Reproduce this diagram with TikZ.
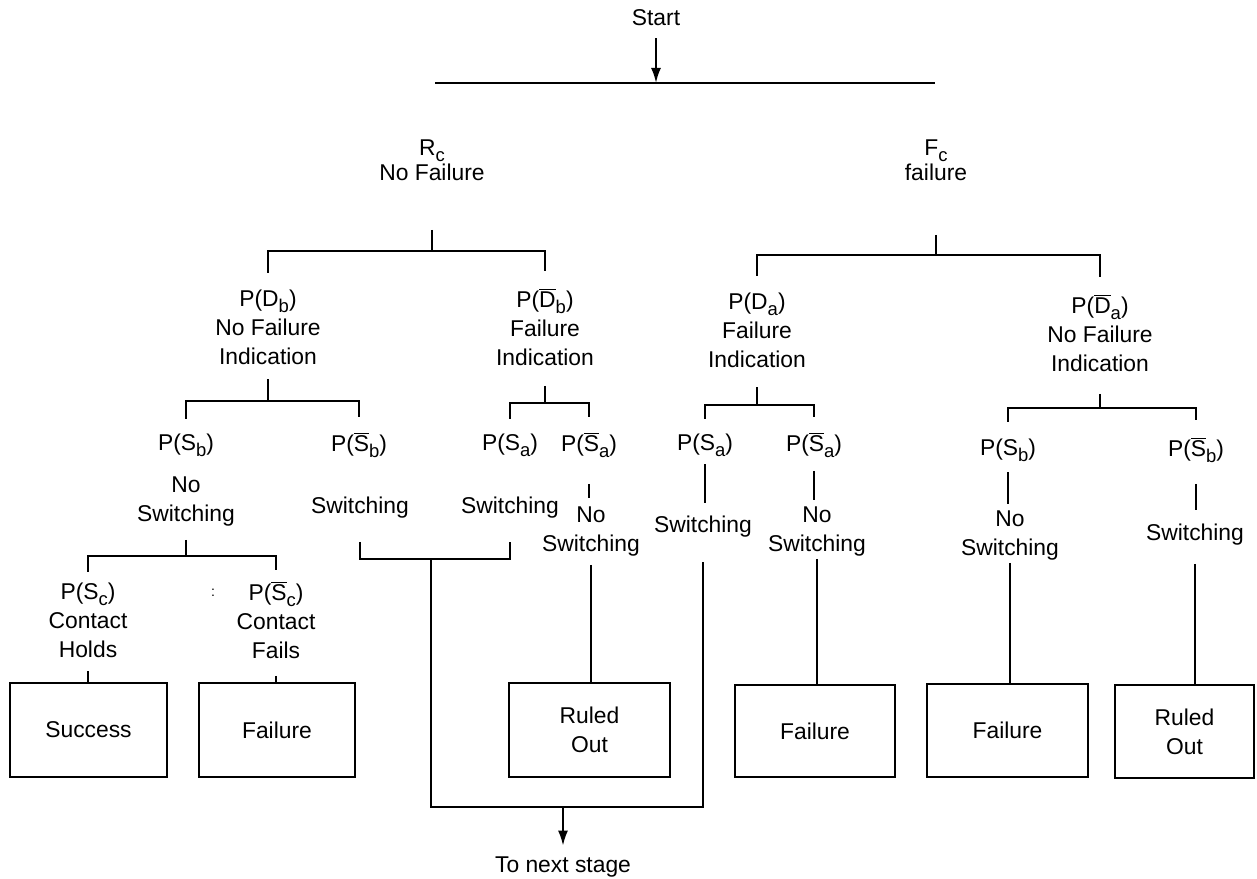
\documentclass[tikz,border=0pt]{standalone}
\usepackage{fontspec}
\setmainfont{Liberation Sans}
\usetikzlibrary{arrows.meta}

\newcommand{\lowsub}[1]{\raisebox{-0.5ex}{\fontsize{10.5}{10}\selectfont #1}}

\begin{document}
\begin{tikzpicture}[x=0.2mm, y=-0.2mm,
	lbl/.style={align=center, inner sep=1pt, font=\fontsize{13}{16.5}\selectfont},
	box/.style={draw, line width=1.5pt, inner sep=0pt, align=center, font=\fontsize{13}{16.5}\selectfont},
	fork/.style={line width=1.6pt},
	link/.style={line width=1.2pt},
	arr/.style={line width=1.2pt, -{Latex[length=3mm,width=2mm]}}]
	\useasboundingbox (0,0) rectangle (1257,879);

	\node[lbl] (start) at (656,18) {Start};
	\coordinate (topL) at (435,83);
	\coordinate (topR) at (935,83);
	\node[lbl] (rc) at (432,160) {R\lowsub{c}\\[-2pt]No Failure};
	\node[lbl] (fc) at (936,160) {F\lowsub{c}\\[-2pt]failure};

	\node[lbl] (db) at (268,327) {P(D\lowsub{b})\\No Failure\\Indication};
	\node[lbl] (dbn) at (545,327) {P($\overline{\mbox{D}}$\lowsub{b})\\Failure\\Indication};
	\node[lbl] (da) at (757,330) {P(D\lowsub{a})\\Failure\\Indication};
	\node[lbl] (dan) at (1100,333) {P($\overline{\mbox{D}}$\lowsub{a})\\No Failure\\Indication};

	\node[lbl] (sb1) at (186,445) {P(S\lowsub{b})};
	\node[lbl] (sw1) at (186,502) {No\\Switching};
	\node[lbl] (sbn1) at (359,445) {P($\overline{\mbox{S}}$\lowsub{b})};
	\node[lbl] (sw2) at (360,508) {Switching};
	\node[lbl] (sa1) at (510,445) {P(S\lowsub{a})};
	\node[lbl] (sw3) at (510,508) {Switching};
	\node[lbl] (san1) at (589,445) {P($\overline{\mbox{S}}$\lowsub{a})};
	\node[lbl] (nsw1) at (591,532) {No\\Switching};
	\node[lbl] (sa2) at (705,445) {P(S\lowsub{a})};
	\node[lbl] (sw4) at (703,527) {Switching};
	\node[lbl] (san2) at (814,445) {P($\overline{\mbox{S}}$\lowsub{a})};
	\node[lbl] (nsw2) at (817,532) {No\\Switching};
	\node[lbl] (sb2) at (1008,450) {P(S\lowsub{b})};
	\node[lbl] (nsw3) at (1010,536) {No\\Switching};
	\node[lbl] (sbn2) at (1196,450) {P($\overline{\mbox{S}}$\lowsub{b})};
	\node[lbl] (sw5) at (1195,535) {Switching};

	\node[lbl] (sc) at (88,620) {P(S\lowsub{c})\\Contact\\Holds};
	\node[lbl] (scn) at (276,620) {P($\overline{\mbox{S}}$\lowsub{c})\\Contact\\Fails};
	\node[lbl, font=\footnotesize] (dots) at (213,593) {:};

	\node[box, minimum width=31.4mm, minimum height=18.8mm] (success) at (88.5,730) {Success};
	\node[box, minimum width=31.2mm, minimum height=18.8mm] (fail1) at (277,730) {Failure};
	\node[box, minimum width=32.2mm, minimum height=18.8mm] (ruled1) at (589.5,730) {Ruled\\Out};
	\node[box, minimum width=32mm, minimum height=18.4mm] (fail2) at (815,731) {Failure};
	\node[box, minimum width=32.2mm, minimum height=18.6mm] (fail3) at (1007.5,730.5) {Failure};
	\node[box, minimum width=27.8mm, minimum height=18.6mm] (ruled2) at (1184.5,731.5) {Ruled\\Out};

	\node[lbl] (next) at (563,867) {To next stage};

	% start
	\draw[fork] (topL) -- (topR);
	\draw[arr, shorten <=2mm] (start) -- (start |- topL);

	% component c
	\coordinate (kRc) at (432,251);
	\coordinate (kFc) at (936,255);
	\draw[fork, shorten <=9.4mm] (rc) -- (kRc);
	\draw[fork, shorten <=3mm, shorten >=3mm] (db) |- (kRc) -| (dbn);
	\draw[fork, shorten <=10.4mm] (fc) -- (kFc);
	\draw[fork, shorten <=3mm, shorten >=3mm] (da) |- (kFc) -| (dan);

	% detection
	\coordinate (kDb) at (268,401);
	\coordinate (kDbn) at (545,403);
	\coordinate (kDa) at (757,405);
	\coordinate (kDan) at (1100,408);
	\draw[fork, shorten <=2.6mm] (db) -- (kDb);
	\draw[fork, shorten <=2.6mm, shorten >=2.6mm] (sb1) |- (kDb) -| (sbn1);
	\draw[fork, shorten <=3.6mm] (dbn) -- (kDbn);
	\draw[fork, shorten <=2.6mm, shorten >=2.6mm] (sa1) |- (kDbn) -| (san1);
	\draw[fork, shorten <=3.6mm] (da) -- (kDa);
	\draw[fork, shorten <=2.6mm, shorten >=2.6mm] (sa2) |- (kDa) -| (san2);
	\draw[fork, shorten <=4mm] (dan) -- (kDan);
	\draw[fork, shorten <=3mm, shorten >=3mm] (sb2) |- (kDan) -| (sbn2);

	% switching
	\draw[link, shorten <=4.8mm, shorten >=1.4mm] (san1) -- (san1 |- nsw1.north);
	\draw[link, shorten <=1.2mm, shorten >=2.2mm] (sa2) -- (sa2 |- sw4.north);
	\draw[link, shorten <=2.2mm, shorten >=1mm] (san2) -- (san2 |- nsw2.north);
	\draw[link, shorten <=1.8mm, shorten >=1mm] (sb2) -- (sb2 |- nsw3.north);
	\draw[link, shorten <=3.8mm, shorten >=2.4mm] (sbn2) -- (sbn2 |- sw5.north);

	% contact
	\coordinate (kSw1) at (186,556);
	\draw[fork, shorten <=2.2mm] (sw1) -- (kSw1);
	\draw[fork, shorten <=1.8mm, shorten >=1.8mm] (sc) |- (kSw1) -| (scn);

	% outcomes
	\draw[link, shorten <=2.4mm] (sc) -- (sc |- success.north);
	\draw[link, shorten <=3mm] (scn) -- (scn |- fail1.north);
	\draw[link, shorten <=1.2mm] (nsw1) -- (nsw1 |- ruled1.north);
	\draw[link] (nsw2) -- (nsw2 |- fail2.north);
	\draw[link] (nsw3) -- (nsw3 |- fail3.north);
	\draw[link, shorten <=3.2mm] (sw5) -- (sw5 |- ruled2.north);

	% next stage
	\coordinate (kSw) at (431,559);
	\coordinate (kOut) at (563,807);
	\draw[fork, shorten <=4.2mm, shorten >=4.2mm] (sw2) |- (kSw) -| (sw3);
	\draw[link, shorten >=4.4mm] (kSw) |- (kOut) -| (sw4);
	\draw[arr, shorten >=1.8mm] (kOut) -- (next);
\end{tikzpicture}
\end{document}
